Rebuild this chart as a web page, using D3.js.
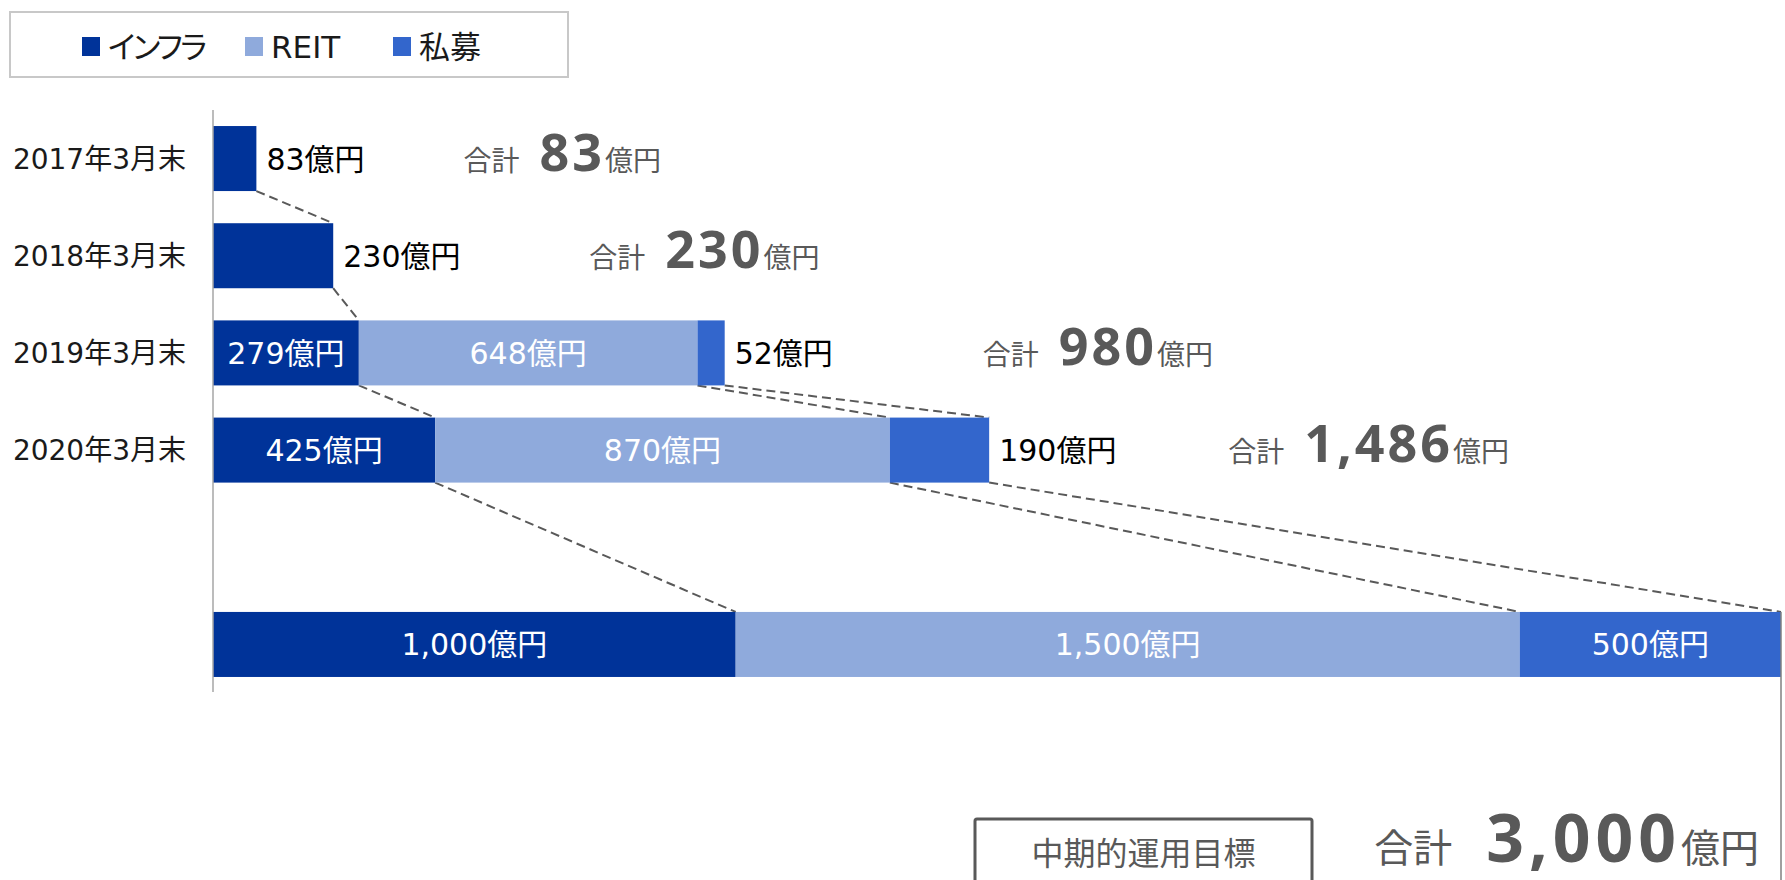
<!DOCTYPE html>
<html>
<head>
<meta charset="utf-8">
<script src="https://cdn.jsdelivr.net/npm/d3@7"></script>
<style>
  html, body { margin: 0; padding: 0; background: #fff; }
  svg { display: block; }
</style>
</head>
<body>
<div id="chart"></div>
<script>
const width = 1785,
      height = 880;

// data (億円)
const categories = ['2017年3月末', '2018年3月末', '2019年3月末', '2020年3月末', '', '中期的運用目標'];
const series = ['インフラ', 'REIT', '私募'];
const infra   = [83, 230, 279, 425, null, 1000];
const reit    = [0, 0, 648, 870, null, 1500];
const privateFund = [0, 0, 52, 190, null, 500];
const totals  = ['83', '230', '980', '1,486', null, '3,000'];

// layout only: gap from the end of each bar to its "合計" label, legend item x
const totalShift = [207, 256, 258, 239];
const legendX = [82, 245, 393];

const colors = ['#003399', '#8FAADC', '#3366CC'];
const labelFont = "'DejaVu Sans', 'Noto Sans CJK JP', sans-serif";
const cjkFont = "'Noto Sans CJK JP', sans-serif";
const numFont = "'Noto Sans', sans-serif";
const grey = '#595959';

const values = [infra, reit, privateFund];
const targetIndex = categories.length - 1;

const x = d3.scaleLinear()
    .domain([0, 3000])
    .range([213, 1781]);

const y = d3.scaleBand()
    .domain(d3.range(categories.length))
    .range([110, 693])
    .paddingInner(0.331)
    .paddingOuter(0.165);

const svg = d3.select('#chart').append('svg')
    .attr('width', width)
    .attr('height', height);

// rows with their stacked segments
const rows = categories.map((c, i) => {
    let acc = 0;
    const segs = values.map((arr, s) => {
        const v = arr[i] || 0;
        const seg = { s, v, x0: acc, x1: acc + v };
        acc += v;
        return seg;
    });
    return { i, label: c, segs, sum: acc, filled: infra[i] != null };
}).filter(r => r.filled);

// connectors between consecutive rows
const links = [];
for (let k = 0; k < rows.length - 1; k++) {
    const a = rows[k], b = rows[k + 1];
    series.forEach((_, s) => {
        if (a.segs[s].v > 0 && b.segs[s].v > 0) {
            links.push({ xa: a.segs[s].x1, ya: y(a.i) + y.bandwidth(), xb: b.segs[s].x1, yb: y(b.i) });
        }
    });
}

svg.append('g').selectAll('line')
    .data(links)
    .enter().append('line')
    .attr('x1', d => x(d.xa)).attr('y1', d => d.ya)
    .attr('x2', d => x(d.xb)).attr('y2', d => d.yb)
    .attr('stroke', grey)
    .attr('stroke-width', 2)
    .attr('stroke-dasharray', '9,5');

// bars
const rowG = svg.append('g').selectAll('g.row')
    .data(rows)
    .enter().append('g')
    .attr('class', 'row')
    .attr('transform', d => `translate(0,${y(d.i)})`);

rowG.selectAll('rect')
    .data(d => d.segs.filter(s => s.v > 0))
    .enter().append('rect')
    .attr('x', d => x(d.x0))
    .attr('y', 0)
    .attr('width', d => x(d.x1) - x(d.x0))
    .attr('height', y.bandwidth())
    .attr('fill', d => colors[d.s]);

// value labels: last segment of an actual row sits outside, the rest inside
const fmt = d3.format(',');
rowG.each(function (row) {
    const g = d3.select(this);
    const segs = row.segs.filter(s => s.v > 0);
    segs.forEach((seg, k) => {
        const outside = row.i !== targetIndex && k === segs.length - 1;
        g.append('text')
            .attr('x', outside ? x(seg.x1) + 10 : (x(seg.x0) + x(seg.x1)) / 2)
            .attr('y', y.bandwidth() / 2 + 11)
            .attr('text-anchor', outside ? 'start' : 'middle')
            .attr('fill', outside ? '#000' : '#fff')
            .style('font-family', labelFont)
            .style('font-size', '30px')
            .text(fmt(seg.v) + '億円');
    });
});

// axis line
svg.append('line')
    .attr('x1', x(0)).attr('x2', x(0))
    .attr('y1', y.range()[0]).attr('y2', y.range()[1] - 1)
    .attr('stroke', '#A6A6A6')
    .attr('stroke-width', 1.5);

// category labels
svg.append('g').selectAll('text')
    .data(rows.filter(r => r.i !== targetIndex))
    .enter().append('text')
    .attr('x', x(0) - 27)
    .attr('y', d => y(d.i) + y.bandwidth() / 2 + 10)
    .attr('text-anchor', 'end')
    .attr('fill', '#1a1a1a')
    .style('font-family', labelFont)
    .style('font-size', '28px')
    .text(d => d.label);

// totals per row
rows.filter(r => r.i !== targetIndex).forEach((r, k) => {
    const t = svg.append('text')
        .attr('x', x(r.sum) + totalShift[k])
        .attr('y', y(r.i) + y.bandwidth() / 2 + 12)
        .attr('fill', grey)
        .style('font-family', cjkFont);
    t.append('tspan').style('font-size', '28px').text('合計');
    t.append('tspan').attr('dx', 20)
        .style('font-family', numFont)
        .style('font-weight', 'bold')
        .style('font-size', '52px')
        .style('letter-spacing', '3px')
        .text(totals[r.i]);
    t.append('tspan').style('font-size', '28px').text('億円');
});

// target: right edge line, label box and total
const tgtBottom = y(targetIndex) + y.bandwidth();
svg.append('line')
    .attr('x1', x(3000)).attr('x2', x(3000))
    .attr('y1', y(targetIndex)).attr('y2', height)
    .attr('stroke', '#808080')
    .attr('stroke-width', 1.5);

svg.append('rect')
    .attr('x', 975).attr('y', tgtBottom + 142)
    .attr('width', 337).attr('height', 100)
    .attr('rx', 2)
    .attr('fill', 'none')
    .attr('stroke', grey)
    .attr('stroke-width', 3);

svg.append('text')
    .attr('x', 975 + 337 / 2)
    .attr('y', tgtBottom + 188)
    .attr('text-anchor', 'middle')
    .attr('fill', grey)
    .style('font-family', cjkFont)
    .style('font-size', '32px')
    .text(categories[targetIndex]);

const tt = svg.append('text')
    .attr('x', x(3000) - 22)
    .attr('y', tgtBottom + 185)
    .attr('text-anchor', 'end')
    .attr('fill', grey)
    .style('font-family', cjkFont);
tt.append('tspan').style('font-size', '39px').text('合計');
tt.append('tspan').attr('dx', 34)
    .style('font-family', numFont)
    .style('font-weight', 'bold')
    .style('font-size', '66px')
    .style('letter-spacing', '5px')
    .text(totals[targetIndex]);
tt.append('tspan').style('font-size', '39px').text('億円');

// legend
const legend = svg.append('g');
legend.append('rect')
    .attr('x', 10).attr('y', 12)
    .attr('width', 558).attr('height', 65)
    .attr('fill', '#fff')
    .attr('stroke', '#C8C8C8')
    .attr('stroke-width', 2);

series.forEach((name, i) => {
    legend.append('rect')
        .attr('x', legendX[i]).attr('y', 37)
        .attr('width', 18).attr('height', 19)
        .attr('fill', colors[i]);
    legend.append('text')
        .attr('x', legendX[i] + 26).attr('y', 58)
        .attr('fill', '#1a1a1a')
        .style('font-family', labelFont)
        .style('font-size', '31px')
        .style('font-feature-settings', '"palt"')
        .style('letter-spacing', i === 0 ? '-2.5px' : '0px')
        .text(name);
});
</script>
</body>
</html>
